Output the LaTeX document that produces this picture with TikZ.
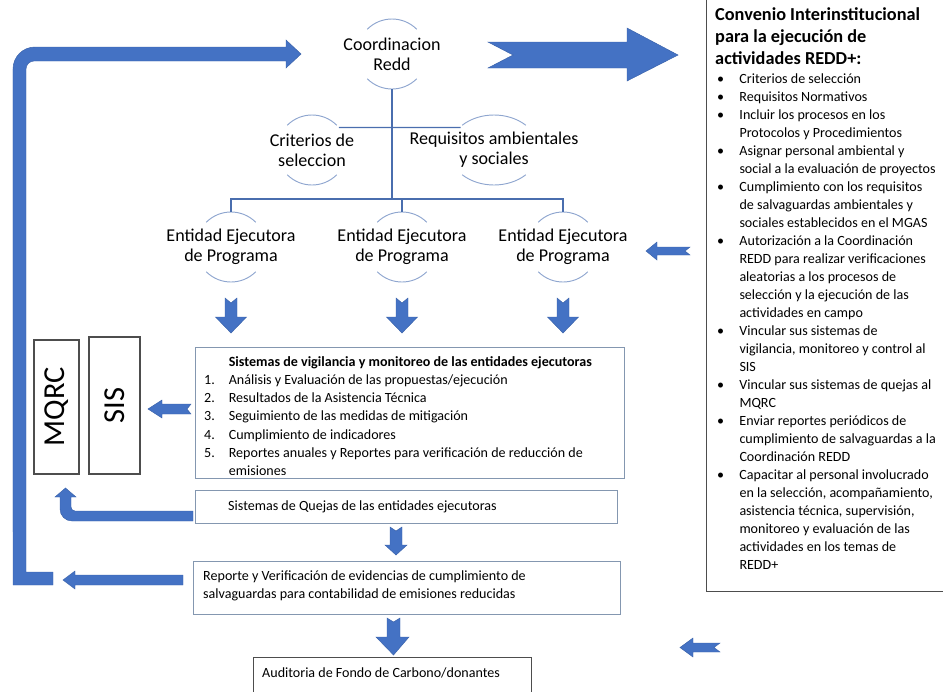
\documentclass[tikz,border=0pt]{standalone}
\usepackage{fontspec}
\setmainfont{Carlito}
\usetikzlibrary{positioning}

\definecolor{flowblue}{HTML}{4472C4}
\definecolor{flowedge}{HTML}{3A62AA}
\definecolor{linkblue}{HTML}{4A6EAE}
\definecolor{ringblue}{HTML}{8FA6CF}
\definecolor{boxedge}{HTML}{8497B0}
\definecolor{darkedge}{HTML}{4D4D4D}

\begin{document}
\begin{tikzpicture}[x=0.03cm, y=0.03cm,
  ring/.style={circle, minimum size=2.1cm, inner sep=0pt, outer sep=0pt},
  ringlabel/.style={align=center, inner sep=0pt, font=\fontsize{15.4}{17.1}\selectfont},
  ringarc/.style={draw=ringblue, line width=0.8pt},
  link/.style={draw=linkblue, line width=1.1pt},
  blockarrow/.style={fill=flowblue, draw=flowedge, line width=0.4pt},
  flowbox/.style={draw=boxedge, line width=1pt, inner sep=0pt, anchor=north west},
  darkbox/.style={draw=darkedge, line width=0.9pt, inner sep=0pt},
  boxtext/.style={inner sep=0pt, align=left, font=\fontsize{12}{15.2}\selectfont},
  sidelabel/.style={darkbox, rotate=90, font=\fontsize{26}{30}\selectfont},
  downblock/.pic={\path[blockarrow] (-6,0) -- (0,-5) -- (6,0) -- (6,-19) -- (15.5,-19) -- (0,-35) -- (-15.5,-19) -- (-6,-19) -- cycle;}
]

\useasboundingbox (0,0) rectangle (943,-691);

% Coordinacion and the two assistants
\node[ring] (coord) at (392,-54) {};
\node[ringlabel] (coordtxt) at (coord) {Coordinacion\\Redd};
\node[ring] (crit) at (312,-150) {};
\node[ringlabel] (crittxt) at (crit) {Criterios de\\seleccion};
\node[ring] (req) at (494,-150) {};
\node[ringlabel] (reqtxt) at (req) {Requisitos ambientales\\y sociales};

% the three executing entities
\node[ring] (ent1) at (231,-247) {};
\node[ring] (ent2) at (402,-247) {};
\node[ring] (ent3) at (563,-247) {};
\foreach \e in {ent1,ent2,ent3}
  \node[ringlabel] at (\e) {Entidad Ejecutora\\de Programa};

% open circles: only top and bottom arcs
\foreach \r/\rx in {coord/1.05, crit/1.05, req/1.35, ent1/1.05, ent2/1.05, ent3/1.05} {
  \draw[ringarc] ([shift={(45:\rx cm and 1.05cm)}]\r.center) arc[start angle=45, end angle=135, x radius=\rx cm, y radius=1.05cm];
  \draw[ringarc] ([shift={(225:\rx cm and 1.05cm)}]\r.center) arc[start angle=225, end angle=315, x radius=\rx cm, y radius=1.05cm];
}

% tree lines
\draw[link] (coord.south) -- ++(0,-110) coordinate (fork);
\draw[link] (ent1.north) |- (fork) -| (ent3.north);
\draw[link] (ent2.north) -- (ent2.north |- fork);
\draw[link] (crit.40) -- ([shift={(-33.5,22.5)}]req.center);

% down arrows below the entities
\foreach \e in {ent1,ent2,ent3}
  \path (\e.south) ++(0,-16) pic {downblock};

% left side boxes
\node[sidelabel, minimum width=4.02cm, minimum height=1.35cm] (mqrc) at (56.5,-407) {MQRC};
\node[sidelabel, minimum width=4.11cm, minimum height=1.53cm] (sis) at (114.5,-405.5) {SIS};

% monitoring box
\node[flowbox, minimum width=12.87cm, minimum height=3.93cm] (monbox) at (195,-347) {};
\begin{scope}
  \clip (monbox.north west) rectangle (624,-474);
  \node[boxtext, anchor=north west, font=\fontsize{12}{15.5}\selectfont] (montext) at (204,-353.5) {%
    \begin{tabular}{@{}p{21pt}@{}l@{}}
      & \textbf{Sistemas de vigilancia y monitoreo de las entidades ejecutoras}\\
      1. & Análisis y Evaluación de las propuestas/ejecución\\
      2. & Resultados de la Asistencia Técnica\\
      3. & Seguimiento de las medidas de mitigación\\
      4. & Cumplimiento de indicadores\\
      5. & Reportes anuales y Reportes para verificación de reducción de\\
         & emisiones
    \end{tabular}};
\end{scope}

% complaints, report and audit boxes
\node[flowbox, minimum width=12.66cm, minimum height=0.99cm] (quejas) at (195,-490) {};
\node[boxtext, anchor=west] (quejastext) at ([xshift=0.99cm]quejas.west) {Sistemas de Quejas de las entidades ejecutoras};

\node[flowbox, minimum width=12.81cm, minimum height=1.59cm] (report) at (193,-561) {};
\node[boxtext, anchor=west] (reporttext) at ([shift={(0.3cm,0.075cm)}]report.west) {Reporte y Verificación de evidencias de cumplimiento de\\salvaguardas para contabilidad de emisiones reducidas};

\node[flowbox, draw=darkedge, minimum width=8.34cm, minimum height=1.5cm] (audit) at (253,-657) {};
\node[boxtext, anchor=west] (audittext) at ([shift={(0.27cm,-0.48cm)}]audit.north west) {Auditoria de Fondo de Carbono/donantes};

% right hand panel
\node[darkbox, anchor=north west, minimum width=7.8cm, minimum height=18.03cm] (convbox) at (706,10) {};
\node[inner sep=0pt, align=left, anchor=north west, font=\bfseries\fontsize{15.6}{18.8}\selectfont] (convtitle) at (715,-7.5) {Convenio Interinstitucional\\para la ejecución de\\actividades REDD+:};
\node[boxtext, anchor=north west, font=\fontsize{12}{15.36}\selectfont] (convlist) at (717,-70.4) {%
  \begin{tabular}{@{}p{19pt}@{}l@{}}
    \textbullet & Criterios de selección\\
    \textbullet & Requisitos Normativos\\
    \textbullet & Incluir los procesos en los\\
                & Protocolos y Procedimientos\\
    \textbullet & Asignar personal ambiental y\\
                & social a la evaluación de proyectos\\
    \textbullet & Cumplimiento con los requisitos\\
                & de salvaguardas ambientales y\\
                & sociales establecidos en el MGAS\\
    \textbullet & Autorización a la Coordinación\\
                & REDD para realizar verificaciones\\
                & aleatorias a los procesos de\\
                & selección y la ejecución de las\\
                & actividades en campo\\
    \textbullet & Vincular sus sistemas de\\
                & vigilancia, monitoreo y control al\\
                & SIS\\
    \textbullet & Vincular sus sistemas de quejas al\\
                & MQRC\\
    \textbullet & Enviar reportes periódicos de\\
                & cumplimiento de salvaguardas a la\\
                & Coordinación REDD\\
    \textbullet & Capacitar al personal involucrado\\
                & en la selección, acompañamiento,\\
                & asistencia técnica, supervisión,\\
                & monitoreo y evaluación de las\\
                & actividades en los temas de\\
                & REDD+
  \end{tabular}};

% block arrows
% bent arrow from the bottom up to Coordinacion
\path[blockarrow] (13,-585) -- (53,-585) -- (53,-572) -- (26,-572) -- (26,-69)
  arc[start angle=180, end angle=90, radius=0.24cm] -- (286,-61) -- (286,-68) -- (301,-54)
  -- (286,-40) -- (286,-47) -- (35,-47) arc[start angle=90, end angle=180, radius=0.66cm] -- cycle;
% notched arrow towards the agreement
\path[blockarrow] (488,-42) -- (627,-42) -- (627,-28) -- (678,-55) -- (627,-81) -- (627,-68) -- (488,-68) -- (513,-55) -- cycle;
% small arrow from the agreement to the entities
\path[blockarrow] (646,-251) -- (657,-242) -- (657,-247) -- (690,-247) -- (685,-251) -- (690,-255) -- (657,-255) -- (657,-260) -- cycle;
% monitoring to SIS
\path[blockarrow] (148,-409) -- (162,-400) -- (162,-404) -- (191,-404) -- (187,-409) -- (191,-414) -- (162,-414) -- (162,-418) -- cycle;
% complaints up to MQRC
\path[blockarrow] (193,-511) -- (75,-511) arc[start angle=270, end angle=180, radius=0.12cm] -- (71,-497) -- (76,-497)
  -- (65.5,-488) -- (55,-497) -- (60,-497) -- (60,-509) arc[start angle=180, end angle=270, radius=0.36cm] -- (193,-521) -- cycle;
% complaints down to report
\path[blockarrow] (390,-527) -- (396,-531) -- (402,-527) -- (402,-545) -- (407,-545) -- (396,-555) -- (385,-545) -- (390,-545) -- cycle;
% report to the left bar
\path[blockarrow] (63,-580) -- (75,-571) -- (75,-575) -- (183,-575) -- (183,-585) -- (75,-585) -- (75,-589) -- cycle;
% report down to audit
\path[blockarrow] (387,-618) -- (393.5,-622) -- (400,-618) -- (400,-637) -- (409,-637) -- (393.5,-655) -- (376,-637) -- (387,-637) -- cycle;
% small arrow at the bottom right
\path[blockarrow] (680,-647.5) -- (693,-638) -- (693,-643) -- (720,-643) -- (714,-647.5) -- (720,-652) -- (693,-652) -- (693,-657) -- cycle;

\end{tikzpicture}
\end{document}
